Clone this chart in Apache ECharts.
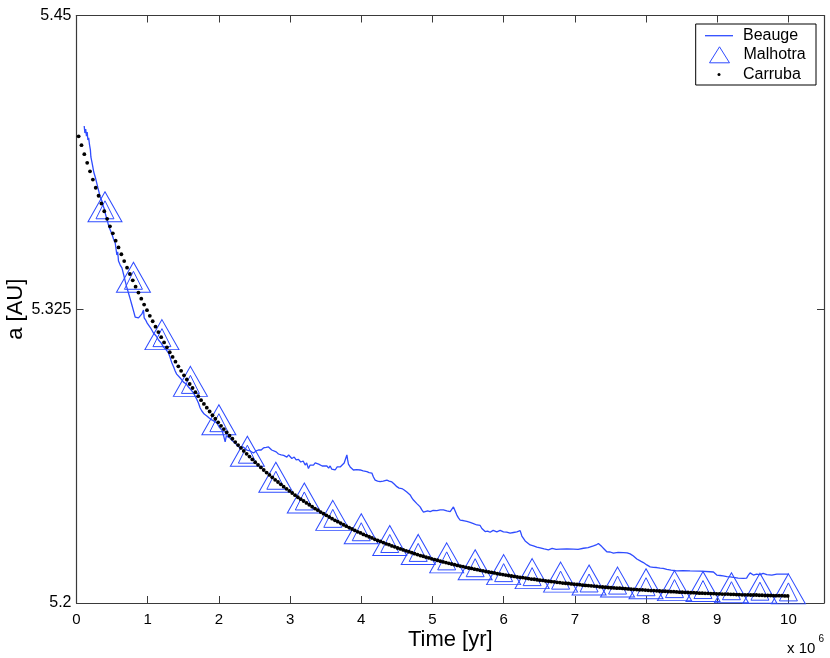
<!DOCTYPE html>
<html>
<head>
<meta charset="utf-8">
<script src="https://cdn.jsdelivr.net/npm/echarts@6/dist/echarts.min.js"></script>
<style>
html,body{margin:0;padding:0;background:#fff;}
#chart{width:830px;height:658px;}
</style>
</head>
<body>
<div id="chart"></div>
<script>
// ---- data (time in units of 10^6 yr, semi-major axis a in AU) ----
var xTicks = [0,1,2,3,4,5,6,7,8,9,10];
var yTicks = [5.2, 5.325, 5.45];

var beaugeT = [0.108,0.118,0.129,0.140,0.150,0.160,0.171,0.183,0.195,0.202,0.216,0.230,0.242,0.263,0.277,0.301,0.319,0.333,0.357,0.375,
0.396,0.410,0.427,0.445,0.463,0.480,0.497,0.520,0.544,0.567,0.579,0.590,0.614,0.638,0.660,0.684,0.705,0.730,0.754,0.778,
0.801,0.824,0.848,0.871,0.895,0.919,0.941,0.951,0.972,0.993,1.011,1.042,1.081,1.119,1.152,1.190,1.222,1.260,1.292,1.316,
1.340,1.365,1.386,1.407,1.433,1.470,1.503,1.541,1.573,1.611,1.643,1.681,1.713,1.737,1.761,1.794,1.831,1.864,1.902,1.934,
1.972,2.004,2.042,2.067,2.088,2.105,2.121,2.159,2.194,2.229,2.264,2.299,2.341,2.393,2.440,2.486,2.524,2.556,2.594,2.626,
2.664,2.697,2.721,2.742,2.767,2.805,2.837,2.875,2.910,2.955,2.980,3.001,3.025,3.058,3.086,3.118,3.149,3.184,3.212,3.233,
3.258,3.282,3.303,3.329,3.353,3.376,3.402,3.423,3.451,3.479,3.517,3.542,3.563,3.584,3.610,3.633,3.662,3.704,3.732,3.760,
3.774,3.798,3.809,3.820,3.844,3.890,3.935,3.985,4.027,4.079,4.111,4.149,4.171,4.195,4.230,4.265,4.308,4.360,4.392,4.430,
4.462,4.500,4.532,4.570,4.603,4.640,4.666,4.687,4.711,4.733,4.757,4.781,4.803,4.827,4.851,4.874,4.897,4.933,4.968,5.010,
5.062,5.108,5.154,5.202,5.249,5.277,5.295,5.319,5.343,5.365,5.389,5.431,5.483,5.529,5.576,5.624,5.642,5.670,5.694,5.716,
5.740,5.775,5.810,5.853,5.904,5.951,5.997,6.042,6.091,6.138,6.185,6.208,6.232,6.256,6.278,6.302,6.326,6.372,6.419,6.466,
6.513,6.569,6.629,6.681,6.737,6.794,6.888,6.980,7.046,7.121,7.187,7.261,7.299,7.331,7.355,7.379,7.411,7.449,7.496,7.542,
7.608,7.683,7.735,7.777,7.823,7.847,7.871,7.893,7.931,7.963,8.011,8.058,8.104,8.149,8.198,8.240,8.292,8.353,8.433,8.521,
8.619,8.760,8.900,8.947,8.994,9.041,9.083,9.135,9.181,9.228,9.294,9.368,9.413,9.438,9.462,9.486,9.508,9.553,9.603,9.645,
9.673,9.697,9.719,9.767,9.837,9.912,10.000];

var beaugeA = [5.4030,5.4000,5.4017,5.3987,5.4004,5.3970,5.3979,5.3949,5.3928,5.3898,5.3877,5.3855,5.3834,5.3813,5.3796,5.3766,5.3745,5.3728,5.3711,5.3689,
5.3672,5.3651,5.3634,5.3613,5.3596,5.3583,5.3570,5.3549,5.3532,5.3481,5.3494,5.3455,5.3438,5.3426,5.3400,5.3370,5.3345,5.3319,5.3294,5.3268,
5.3243,5.3217,5.3209,5.3213,5.3217,5.3230,5.3247,5.3213,5.3204,5.3191,5.3183,5.3170,5.3149,5.3136,5.3119,5.3106,5.3089,5.3077,5.3064,5.3043,
5.3021,5.3004,5.2987,5.2974,5.2970,5.2953,5.2940,5.2932,5.2919,5.2906,5.2894,5.2872,5.2851,5.2830,5.2817,5.2804,5.2796,5.2787,5.2779,5.2774,
5.2766,5.2749,5.2736,5.2711,5.2686,5.2711,5.2706,5.2701,5.2689,5.2681,5.2668,5.2660,5.2664,5.2651,5.2647,5.2638,5.2647,5.2651,5.2651,5.2660,
5.2662,5.2664,5.2666,5.2651,5.2643,5.2643,5.2634,5.2630,5.2628,5.2621,5.2630,5.2636,5.2615,5.2621,5.2609,5.2611,5.2600,5.2604,5.2587,5.2596,
5.2572,5.2587,5.2579,5.2587,5.2596,5.2602,5.2591,5.2596,5.2583,5.2591,5.2583,5.2574,5.2583,5.2570,5.2574,5.2566,5.2579,5.2579,5.2587,5.2596,
5.2604,5.2630,5.2609,5.2591,5.2579,5.2566,5.2568,5.2566,5.2562,5.2559,5.2555,5.2553,5.2536,5.2523,5.2519,5.2516,5.2519,5.2523,5.2519,5.2515,
5.2506,5.2495,5.2489,5.2487,5.2481,5.2472,5.2468,5.2460,5.2447,5.2438,5.2430,5.2423,5.2417,5.2409,5.2396,5.2387,5.2385,5.2392,5.2389,5.2394,
5.2393,5.2396,5.2396,5.2392,5.2389,5.2396,5.2409,5.2411,5.2374,5.2362,5.2353,5.2351,5.2347,5.2343,5.2338,5.2332,5.2340,5.2330,5.2317,5.2311,
5.2304,5.2306,5.2301,5.2309,5.2303,5.2309,5.2303,5.2302,5.2297,5.2300,5.2303,5.2309,5.2308,5.2285,5.2275,5.2264,5.2260,5.2247,5.2243,5.2238,
5.2235,5.2230,5.2226,5.2232,5.2228,5.2229,5.2230,5.2229,5.2228,5.2233,5.2236,5.2243,5.2247,5.2253,5.2247,5.2240,5.2230,5.2218,5.2217,5.2212,
5.2215,5.2214,5.2213,5.2209,5.2200,5.2204,5.2187,5.2183,5.2177,5.2172,5.2162,5.2154,5.2152,5.2151,5.2148,5.2147,5.2143,5.2140,5.2137,5.2138,
5.2137,5.2136,5.2133,5.2132,5.2119,5.2117,5.2115,5.2112,5.2111,5.2109,5.2106,5.2105,5.2106,5.2119,5.2128,5.2136,5.2119,5.2123,5.2121,5.2126,
5.2129,5.2121,5.2123,5.2119,5.2123,5.2123,5.2123];

var malhotraT = [0.4,0.8,1.2,1.6,2.0,2.4,2.8,3.2,3.6,4.0,4.4,4.8,5.2,5.6,6.0,6.4,6.8,7.2,7.6,8.0,8.4,8.8,9.2,9.6,10.0];
var malhotraA = [5.3686,5.3386,5.3142,5.2943,5.2780,5.2646,5.2535,5.2447,5.2373,5.2316,5.2266,5.2228,5.2192,5.2163,5.2142,5.2125,5.2110,5.2098,5.2089,5.2082,5.2074,5.2070,5.2065,5.2063,5.2060];

// Carruba: one sample every 0.04 Myr starting at 0.03 Myr
var carrubaT0 = 0.03, carrubaStep = 0.04;
var carrubaA = [
5.3986,5.3948,5.3910,5.3873,5.3837,5.3802,5.3767,5.3733,5.3700,5.3667,5.3635,5.3603,5.3573,5.3542,5.3513,5.3484,5.3455,5.3427,5.3400,5.3373,5.3346,5.3321,5.3295,5.3270,5.3246,
5.3222,5.3199,5.3176,5.3153,5.3131,5.3109,5.3088,5.3067,5.3047,5.3027,5.3007,5.2988,5.2969,5.2951,5.2932,5.2915,5.2897,5.2880,5.2863,5.2847,5.2831,5.2815,5.2799,5.2784,5.2769,
5.2754,5.2740,5.2726,5.2712,5.2699,5.2685,5.2672,5.2660,5.2647,5.2635,5.2623,5.2611,5.2599,5.2588,5.2577,5.2566,5.2555,5.2545,5.2535,5.2524,5.2515,5.2505,5.2495,5.2486,5.2477,
5.2468,5.2459,5.2450,5.2442,5.2434,5.2426,5.2418,5.2410,5.2402,5.2395,5.2387,5.2380,5.2373,5.2366,5.2359,5.2352,5.2346,5.2340,5.2333,5.2327,5.2321,5.2315,5.2309,5.2303,5.2298,
5.2292,5.2287,5.2282,5.2277,5.2271,5.2266,5.2262,5.2257,5.2252,5.2248,5.2243,5.2239,5.2234,5.2230,5.2226,5.2222,5.2218,5.2214,5.2210,5.2206,5.2202,5.2199,5.2195,5.2192,5.2188,
5.2185,5.2182,5.2178,5.2175,5.2172,5.2169,5.2166,5.2163,5.2160,5.2157,5.2155,5.2152,5.2149,5.2147,5.2144,5.2142,5.2139,5.2137,5.2134,5.2132,5.2130,5.2128,5.2125,5.2123,5.2121,
5.2119,5.2117,5.2115,5.2113,5.2111,5.2109,5.2108,5.2106,5.2104,5.2102,5.2101,5.2099,5.2097,5.2096,5.2094,5.2093,5.2091,5.2090,5.2088,5.2087,5.2085,5.2084,5.2083,5.2081,5.2080,
5.2079,5.2078,5.2076,5.2075,5.2074,5.2073,5.2072,5.2071,5.2069,5.2068,5.2067,5.2066,5.2065,5.2064,5.2063,5.2063,5.2062,5.2061,5.2060,5.2059,5.2058,5.2057,5.2056,5.2056,5.2055,
5.2054,5.2053,5.2053,5.2052,5.2051,5.2050,5.2050,5.2049,5.2048,5.2048,5.2047,5.2046,5.2046,5.2045,5.2045,5.2044,5.2044,5.2043,5.2042,5.2042,5.2041,5.2041,5.2040,5.2040,5.2039,
5.2039,5.2038,5.2038,5.2038,5.2037,5.2037,5.2036,5.2036,5.2035,5.2035,5.2035,5.2034,5.2034,5.2034,5.2033,5.2033,5.2032,5.2032,5.2032,5.2031,5.2031,5.2031,5.2031,5.2030,5.2030];

// ---- build series data ----
var beaugeData = beaugeT.map(function(t,i){return [t, beaugeA[i]];});
var malhotraData = malhotraT.map(function(t,i){return [t, malhotraA[i]];});
var carrubaData = carrubaA.map(function(a,i){return [+(carrubaT0 + carrubaStep*i).toFixed(2), a];});

var BLUE = '#2f4cff';
var AXIS = '#3a3a3a';
var FONT = 'Liberation Sans, Arial, Helvetica, sans-serif';

var chart = echarts.init(document.getElementById('chart'), null, {renderer:'canvas'});

function xFmt(v){ return (Math.abs(v - Math.round(v)) < 1e-6 && v <= 10) ? String(Math.round(v)) : ''; }
function yFmt(v){
  for (var i=0;i<yTicks.length;i++){ if (Math.abs(v - yTicks[i]) < 1e-6) return String(yTicks[i]); }
  return '';
}

var axisCommon = {
  axisLine:{show:true, onZero:false, lineStyle:{color:AXIS, width:1.2}},
  axisTick:{show:true, inside:true, length:7, lineStyle:{color:AXIS, width:1}},
  splitLine:{show:false}
};

var legendText = function(pad){
  return {fontSize:16, color:'#000', fontFamily:FONT, lineHeight:16, padding:[0,0,0,pad]};
};

chart.setOption({
  animation:false,
  backgroundColor:'#ffffff',
  textStyle:{fontFamily:FONT},
  grid:{left:76.5, top:15.5, right:6, bottom:55, containLabel:false, outerBoundsMode:'none'},
  xAxis:[
    Object.assign({
      type:'value', min:0, max:10.5, interval:1, position:'bottom',
      name:'Time [yr]', nameLocation:'middle', nameGap:26, nameMoveOverlap:false,
      nameTextStyle:{fontSize:22, color:'#000', fontFamily:FONT},
      axisLabel:{show:true, formatter:xFmt, fontSize:15, color:'#000', margin:9, fontFamily:FONT, showMaxLabel:false}
    }, axisCommon),
    Object.assign({
      type:'value', min:0, max:10.5, interval:1, position:'top',
      axisLabel:{show:false}
    }, axisCommon)
  ],
  yAxis:[
    Object.assign({
      type:'value', min:yTicks[0], max:yTicks[2], interval:0.125, position:'left',
      name:'a [AU]', nameLocation:'middle', nameGap:49.5, nameRotate:90, nameMoveOverlap:false,
      nameTextStyle:{fontSize:22, color:'#000', fontFamily:FONT},
      axisLabel:{show:true, formatter:yFmt, fontSize:16, color:'#000', margin:5, fontFamily:FONT}
    }, axisCommon),
    Object.assign({
      type:'value', min:yTicks[0], max:yTicks[2], interval:0.125, position:'right',
      axisLabel:{show:false}
    }, axisCommon)
  ],
  legend:[
    {
      data:[{name:'Beauge', icon:'rect'}],
      left:705, top:27.7, padding:0, orient:'vertical', symbolKeepAspect:false,
      itemWidth:28, itemHeight:1.3, itemGap:0,
      textStyle:legendText(5)
    },
    {
      data:[{name:'Malhotra', icon:'path://M10,0 L20,16 L0,16 Z',
             itemStyle:{color:'rgba(255,255,255,0)', borderColor:BLUE, borderWidth:1}}],
      left:709, top:46.3, padding:0, orient:'vertical', symbolKeepAspect:false,
      itemWidth:20, itemHeight:16, itemGap:0,
      itemStyle:{borderWidth:1},
      textStyle:legendText(9)
    },
    {
      data:[{name:'Carruba', icon:'circle'}],
      left:717.5, top:66.5, padding:0, orient:'vertical', symbolKeepAspect:false,
      itemWidth:3, itemHeight:3, itemGap:0,
      textStyle:legendText(17.5)
    }
  ],
  graphic:[
    {type:'rect', z:3, shape:{x:695.7, y:24, width:120.3, height:61},
     style:{fill:'#ffffff', stroke:'#000', lineWidth:1}},
    {type:'text', z:5, left:787, top:641.5, style:{text:'x 10', font:'15px ' + FONT, fill:'#000'}},
    {type:'text', z:5, left:818.5, top:634.5, style:{text:'6', font:'10px ' + FONT, fill:'#000'}}
  ],
  series:[
    {
      name:'Malhotra', type:'scatter', data:malhotraData, xAxisIndex:0, yAxisIndex:0,
      symbol:'triangle', symbolSize:[34,30], z:2,
      itemStyle:{color:'rgba(255,255,255,0)', borderColor:BLUE, borderWidth:1, opacity:1},
      emphasis:{disabled:true}
    },
    {
      name:'Malhotra-inner', type:'scatter', data:malhotraData, xAxisIndex:0, yAxisIndex:0,
      symbol:'triangle', symbolSize:[18,18], symbolOffset:[0,3], z:2,
      itemStyle:{color:'rgba(255,255,255,0)', borderColor:BLUE, borderWidth:1, opacity:1},
      emphasis:{disabled:true}
    },
    {
      name:'Beauge', type:'line', data:beaugeData, xAxisIndex:0, yAxisIndex:0,
      symbol:'none', showSymbol:false, z:3,
      lineStyle:{color:BLUE, width:1.3}, itemStyle:{color:BLUE},
      emphasis:{disabled:true}
    },
    {
      name:'Carruba', type:'scatter', data:carrubaData, xAxisIndex:0, yAxisIndex:0,
      symbol:'circle', symbolSize:3.8, z:4,
      itemStyle:{color:'#000', opacity:1},
      emphasis:{disabled:true}
    }
  ]
});
</script>
</body>
</html>
